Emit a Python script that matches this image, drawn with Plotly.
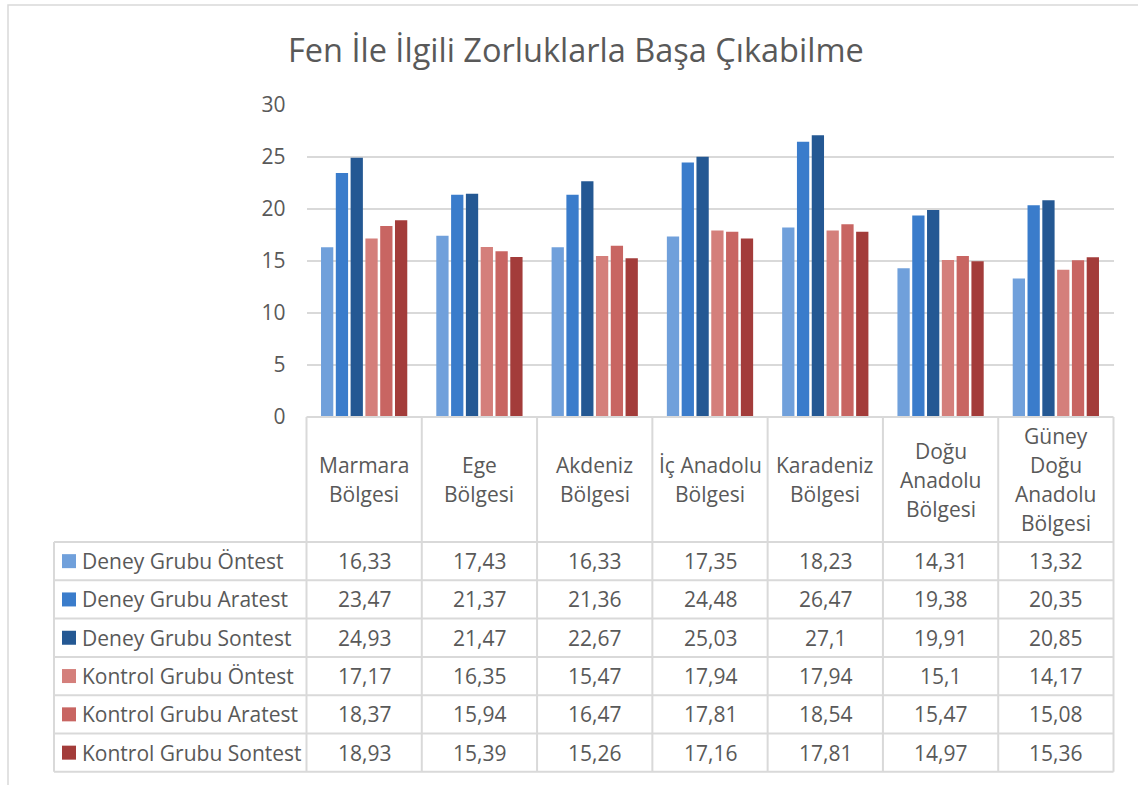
import plotly.graph_objects as go

# ---------------- data ----------------
categories = ["Marmara Bölgesi", "Ege Bölgesi", "Akdeniz Bölgesi", "İç Anadolu Bölgesi",
              "Karadeniz Bölgesi", "Doğu Anadolu Bölgesi", "Güney Doğu Anadolu Bölgesi"]
header_lines = [["Marmara", "Bölgesi"], ["Ege", "Bölgesi"], ["Akdeniz", "Bölgesi"],
                ["İç Anadolu", "Bölgesi"], ["Karadeniz", "Bölgesi"],
                ["Doğu", "Anadolu", "Bölgesi"], ["Güney", "Doğu", "Anadolu", "Bölgesi"]]
series_names = ["Deney Grubu Öntest", "Deney Grubu Aratest", "Deney Grubu Sontest",
                "Kontrol Grubu Öntest", "Kontrol Grubu Aratest", "Kontrol Grubu Sontest"]
deney_ontest = [16.33, 17.43, 16.33, 17.35, 18.23, 14.31, 13.32]
deney_aratest = [23.47, 21.37, 21.36, 24.48, 26.47, 19.38, 20.35]
deney_sontest = [24.93, 21.47, 22.67, 25.03, 27.1, 19.91, 20.85]
kontrol_ontest = [17.17, 16.35, 15.47, 17.94, 17.94, 15.1, 14.17]
kontrol_aratest = [18.37, 15.94, 16.47, 17.81, 18.54, 15.47, 15.08]
kontrol_sontest = [18.93, 15.39, 15.26, 17.16, 17.81, 14.97, 15.36]
series_values = [deney_ontest, deney_aratest, deney_sontest,
                 kontrol_ontest, kontrol_aratest, kontrol_sontest]
colors = ["#70A0DB", "#3A7CCB", "#245893", "#D47F7B", "#C86562", "#A33C3A"]
y_ticks = [0, 5, 10, 15, 20, 25, 30]
title_text = "Fen İle İlgili Zorluklarla Başa Çıkabilme"

# ---------------- layout geometry (pixels) ----------------
W, H = 1138, 785
PL, PR = 306.5, 1113.5       # plot area left/right
PT, PB = 105, 417            # plot area top (30) / bottom (0)
TABLE_LEFT = 54
HEADER_BOTTOM = 542
ROW_H = 38.3
FONT = "Open Sans"
TXT = "#595959"
LINE = "#D9D9D9"
FS = 21


def fx(x):
    return x / W


def fy(y):
    return 1 - y / H


n = len(categories)
col_w = (PR - PL) / n

fig = go.Figure()
for name, vals, col in zip(series_names, series_values, colors):
    fig.add_trace(go.Bar(x=list(range(n)), y=vals, name=name, marker_color=col,
                         marker_line_width=0, showlegend=False))

shapes = []
annotations = []

# chart border
shapes.append(dict(type="rect", xref="paper", yref="paper", x0=fx(8), x1=fx(W + 10),
                   y0=fy(H + 10), y1=fy(5), line=dict(color=LINE, width=1.5),
                   fillcolor="rgba(0,0,0,0)", layer="below"))

table_bottom = HEADER_BOTTOM + ROW_H * len(series_names)

# horizontal table lines
shapes.append(dict(type="line", xref="paper", yref="paper", x0=fx(PL), x1=fx(PR),
                   y0=fy(PB), y1=fy(PB), line=dict(color=LINE, width=2)))
for r in range(len(series_names) + 1):
    yy = HEADER_BOTTOM + r * ROW_H
    shapes.append(dict(type="line", xref="paper", yref="paper", x0=fx(TABLE_LEFT), x1=fx(PR),
                       y0=fy(yy), y1=fy(yy), line=dict(color=LINE, width=2)))
# vertical table lines
for k in range(n + 1):
    xx = PL + k * col_w
    shapes.append(dict(type="line", xref="paper", yref="paper", x0=fx(xx), x1=fx(xx),
                       y0=fy(PB), y1=fy(table_bottom), line=dict(color=LINE, width=2)))
shapes.append(dict(type="line", xref="paper", yref="paper", x0=fx(TABLE_LEFT), x1=fx(TABLE_LEFT),
                   y0=fy(HEADER_BOTTOM), y1=fy(table_bottom), line=dict(color=LINE, width=2)))

# header labels
hdr_center = (PB + HEADER_BOTTOM) / 2
line_gap = 29
for k, lines in enumerate(header_lines):
    cx = PL + (k + 0.5) * col_w
    m = len(lines)
    for i, t in enumerate(lines):
        yy = hdr_center + (i - (m - 1) / 2) * line_gap
        annotations.append(dict(text=t, xref="paper", yref="paper", x=fx(cx), y=fy(yy),
                                xanchor="center", yanchor="middle", showarrow=False,
                                font=dict(family=FONT, size=FS, color=TXT)))

# rows: legend keys, names and values
for r, (name, vals, col) in enumerate(zip(series_names, series_values, colors)):
    cy = HEADER_BOTTOM + (r + 0.5) * ROW_H
    shapes.append(dict(type="rect", xref="paper", yref="paper", x0=fx(62), x1=fx(76),
                       y0=fy(cy + 7), y1=fy(cy - 7), fillcolor=col, line=dict(width=0)))
    annotations.append(dict(text=name, xref="paper", yref="paper", x=fx(80), y=fy(cy),
                            xanchor="left", yanchor="middle", showarrow=False,
                            font=dict(family=FONT, size=FS, color=TXT)))
    for k, v in enumerate(vals):
        cx = PL + (k + 0.5) * col_w
        annotations.append(dict(text=("%g" % v).replace(".", ","), xref="paper", yref="paper",
                                x=fx(cx), y=fy(cy), xanchor="center", yanchor="middle",
                                showarrow=False, font=dict(family=FONT, size=FS, color=TXT)))

# title
annotations.append(dict(text=title_text, xref="paper", yref="paper", x=fx(576), y=fy(50),
                        xanchor="center", yanchor="middle", showarrow=False,
                        font=dict(family=FONT, size=32.5, color=TXT)))

fig.update_layout(
    width=W, height=H, autosize=False,
    margin=dict(l=0, r=0, t=0, b=0, autoexpand=False),
    paper_bgcolor="white", plot_bgcolor="white",
    barmode="group", bargap=0.23, bargroupgap=0.17,
    xaxis=dict(domain=[fx(PL), fx(PR)], range=[-0.5, n - 0.5], showticklabels=False,
               showgrid=False, zeroline=False, showline=False, ticks=""),
    yaxis=dict(domain=[fy(PB), fy(PT)], range=[0, 30], tickvals=y_ticks,
               showgrid=True, gridcolor=LINE, gridwidth=2, zeroline=False,
               showline=False, ticks="", ticklabelstandoff=20,
               tickfont=dict(family=FONT, size=FS, color=TXT)),
    shapes=shapes, annotations=annotations,
    font=dict(family=FONT, color=TXT),
)

fig.write_html("out.html", config={"displayModeBar": False},
               post_script="document.body.style.margin='0';document.body.style.overflow='hidden';")
